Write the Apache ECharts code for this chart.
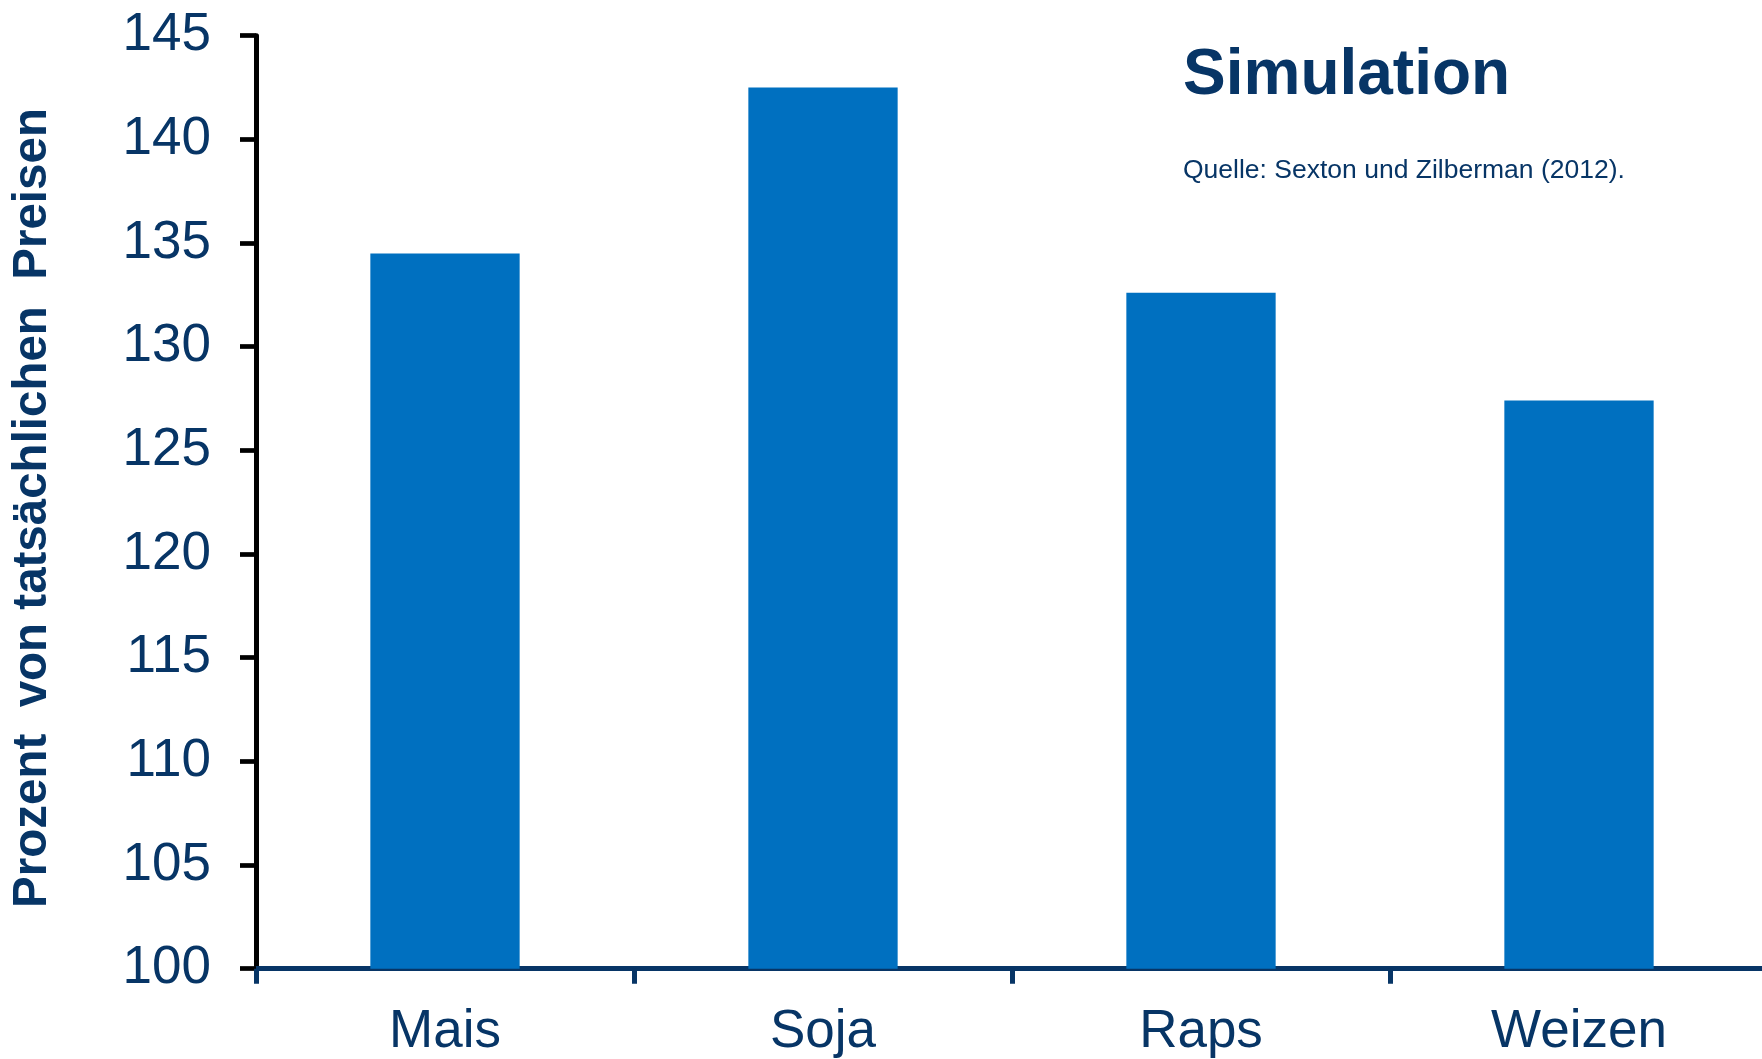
<!DOCTYPE html>
<html>
<head>
<meta charset="utf-8">
<script src="https://cdn.jsdelivr.net/npm/echarts@6/dist/echarts.min.js"></script>
<style>
  html, body { margin: 0; padding: 0; background: #fff; overflow: hidden; }
  /* slightly wider than the viewport so the axis can run past the right edge */
  #chart { width: 1780px; height: 1059px; }
</style>
</head>
<body>
<div id="chart"></div>
<script>
// Crops and simulated prices (percent of actual prices)
const categories = ['Mais', 'Soja', 'Raps', 'Weizen'];
const values = [134.5, 142.5, 132.6, 127.4];
const yMin = 100, yMax = 145, yStep = 5;

const titleText = 'Simulation';
const sourceText = 'Quelle: Sexton und Zilberman (2012).';
const yAxisTitle = 'Prozent  von tatsächlichen  Preisen';

const navy = '#073566';
const barBlue = '#0070c0';
const font = 'Liberation Sans, Arial, sans-serif';

const chart = echarts.init(document.getElementById('chart'), null, { renderer: 'canvas' });

chart.setOption({
  animation: false,
  backgroundColor: '#ffffff',
  grid: { left: 256, top: 35.7, width: 1512, height: 933, containLabel: false },
  xAxis: {
    type: 'category',
    data: categories,
    boundaryGap: true,
    axisLine: { show: true, lineStyle: { color: navy, width: 5 } },
    axisTick: { show: true, alignWithLabel: false, length: 15, lineStyle: { color: navy, width: 5 } },
    axisLabel: { color: navy, fontSize: 53, fontFamily: font, margin: 37 },
    splitLine: { show: false }
  },
  yAxis: {
    type: 'value',
    min: yMin,
    max: yMax,
    interval: yStep,
    axisLine: { show: true, lineStyle: { color: '#000', width: 5 } },
    axisTick: { show: true, length: 16, lineStyle: { color: '#000', width: 4.7 } },
    axisLabel: { color: navy, fontSize: 53, fontFamily: font, margin: 45 },
    splitLine: { show: false }
  },
  series: [{
    type: 'bar',
    data: values,
    barWidth: '39.5%',
    itemStyle: { color: barBlue },
    silent: true
  }],
  graphic: [
    {
      type: 'text',
      x: 33, y: 508,
      rotation: Math.PI / 2,
      style: {
        text: yAxisTitle,
        fill: navy,
        font: 'bold 47.5px ' + font,
        textAlign: 'center',
        textVerticalAlign: 'middle'
      }
    },
    {
      type: 'text',
      x: 1183, y: 76,
      style: {
        text: titleText,
        fill: navy,
        font: 'bold 64px ' + font,
        textAlign: 'left',
        textVerticalAlign: 'middle'
      }
    },
    {
      type: 'text',
      x: 1183, y: 171,
      style: {
        text: sourceText,
        fill: navy,
        font: '26.5px ' + font,
        textAlign: 'left',
        textVerticalAlign: 'middle'
      }
    }
  ]
});
</script>
</body>
</html>
